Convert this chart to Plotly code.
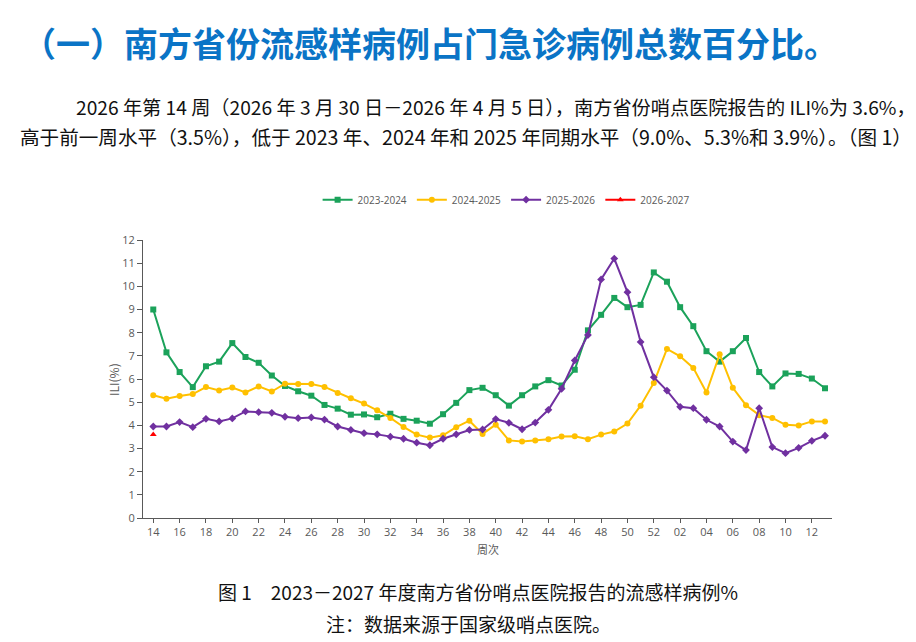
import plotly.graph_objects as go

weeks = [str(w) for w in range(14, 53)] + ["%02d" % w for w in range(1, 14)]
tick_labels = weeks[::2]

s2023_2024 = [9.0, 7.15, 6.3, 5.65, 6.55, 6.75, 7.55, 6.95, 6.7, 6.15, 5.7, 5.47, 5.28,
              4.88, 4.72, 4.46, 4.47, 4.35, 4.5, 4.28, 4.2, 4.07, 4.48, 4.97, 5.52, 5.62,
              5.3, 4.85, 5.3, 5.68, 5.95, 5.72, 6.4, 8.1, 8.77, 9.5, 9.1, 9.2, 10.6,
              10.2, 9.1, 8.28, 7.2, 6.75, 7.2, 7.77, 6.3, 5.68, 6.24, 6.22, 6.02, 5.6]
s2024_2025 = [5.3, 5.15, 5.27, 5.35, 5.65, 5.5, 5.63, 5.42, 5.68, 5.46, 5.8, 5.78, 5.78,
              5.66, 5.4, 5.17, 4.94, 4.65, 4.32, 3.93, 3.6, 3.47, 3.57, 3.92, 4.2, 3.63,
              4.03, 3.35, 3.3, 3.34, 3.4, 3.52, 3.53, 3.4, 3.6, 3.73, 4.08, 4.85, 5.83,
              7.3, 6.98, 6.48, 5.42, 7.07, 5.62, 4.87, 4.44, 4.32, 4.02, 3.99, 4.17, 4.17]
s2025_2026 = [3.95, 3.95, 4.14, 3.92, 4.28, 4.17, 4.3, 4.6, 4.57, 4.54, 4.37, 4.31, 4.34,
              4.25, 3.95, 3.8, 3.66, 3.61, 3.51, 3.42, 3.25, 3.14, 3.42, 3.61, 3.8, 3.82,
              4.27, 4.11, 3.83, 4.12, 4.67, 5.58, 6.8, 7.9, 10.3, 11.2, 9.75, 7.6, 6.08,
              5.5, 4.8, 4.74, 4.24, 3.95, 3.3, 2.93, 4.74, 3.06, 2.8, 3.03, 3.33, 3.55]
s2026_2027 = [3.6]

series = [
    ("2023-2024", s2023_2024, "#1BA25A", "square", 6),
    ("2024-2025", s2024_2025, "#FFC000", "circle", 6),
    ("2025-2026", s2025_2026, "#7030A0", "diamond", 6),
    ("2026-2027", s2026_2027, "#FF0000", "triangle-up", 6),
]

fig = go.Figure()
for name, vals, color, sym, size in series:
    fig.add_trace(go.Scatter(
        x=weeks[:len(vals)], y=vals, name=name, mode="lines+markers",
        line=dict(color=color, width=2),
        marker=dict(symbol=sym, size=size, color=color),
    ))

axis_font = dict(family="Open Sans, Noto Sans CJK SC", size=11, color="#595959")
legend_font = dict(family="Open Sans, Noto Sans CJK SC", size=10, color="#595959")

L, R, T, B = 143, 84, 240, 124
W, H = 916, 642

fig.update_layout(
    width=W, height=H,
    margin=dict(l=L, r=R, t=T, b=B),
    paper_bgcolor="white", plot_bgcolor="white",
    showlegend=True,
    legend=dict(orientation="h", x=0.527, xanchor="center", y=1.145, yanchor="middle",
                font=legend_font, itemwidth=30, tracegroupgap=0),
    xaxis=dict(type="category", categoryorder="array", categoryarray=weeks,
               range=[-0.78, 51.53], tickmode="array", tickvals=tick_labels,
               ticktext=tick_labels, ticks="outside", ticklen=4, tickcolor="#595959",
               showline=True, linecolor="#595959", linewidth=1, showgrid=False,
               zeroline=False, tickfont=axis_font, tickangle=0),
    yaxis=dict(range=[0, 12], tickmode="linear", tick0=0, dtick=1, ticks="outside",
               ticklen=5, tickcolor="#595959", showline=True, linecolor="#595959",
               linewidth=1, showgrid=False, zeroline=False, tickfont=axis_font),
)

cjk = "Noto Sans CJK SC"


def px_to_paper(px, py):
    return (px - L) / (W - L - R), (H - B - py) / (H - T - B)


texts = [
    ("<b>（一）南方省份流感样病例占门急诊病例总数百分比。</b>", 20, 42, 34, "#0A74C6", "left", 0),
    ("2026 年第 14 周（2026 年 3 月 30 日－2026 年 4 月 5 日），南方省份哨点医院报告的 ILI%为 3.6%，",
     74, 107, 19.2, "#111111", "left", 0),
    ("高于前一周水平（3.5%），低于 2023 年、2024 年和 2025 年同期水平（9.0%、5.3%和 3.9%）。（图 1）",
     18, 136, 19.6, "#111111", "left", 0),
    ("ILI(%)", 113, 380, 12, "#595959", "center", -90),
    ("周次", 488, 549, 11, "#595959", "center", 0),
    ("图 1　2023－2027 年度南方省份哨点医院报告的流感样病例%", 478, 591, 19, "#111111", "center", 0),
    ("注：数据来源于国家级哨点医院。", 468, 623, 19, "#111111", "center", 0),
]
for text, px, py, size, color, anchor, angle in texts:
    xp, yp = px_to_paper(px, py)
    fig.add_annotation(text=text, x=xp, y=yp, xref="paper", yref="paper",
                       xanchor=anchor, yanchor="middle", showarrow=False,
                       textangle=angle, font=dict(family=cjk, size=size, color=color))

fig.write_html("out.html")
